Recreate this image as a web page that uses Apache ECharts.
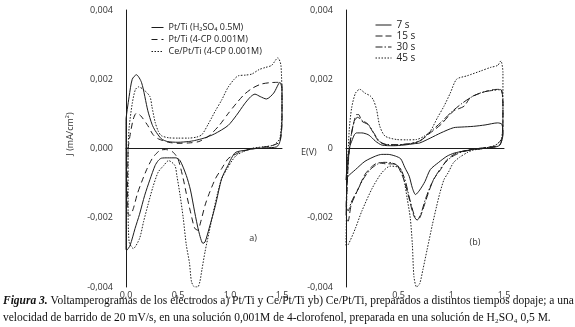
<!DOCTYPE html>
<html><head><meta charset="utf-8">
<script src="https://cdn.jsdelivr.net/npm/echarts@6/dist/echarts.min.js"></script>
<style>html,body{margin:0;padding:0;background:#fff}#c{width:575px;height:327px}</style>
</head><body><div id="c"></div>
<script>
// ---- data (E in V, J in mA/cm2) ----
const xTicksA = ['0,0', '0,5', '1,0', '1,5'];
const xTicksB = ['', '0,5', '1', '1,5'];
const yTicksA = ['-0,004', '-0,002', '0,000', '0,002', '0,004'];
const yTicksB = ['-0,004', '-0,002', '0', '0,002', '0,004'];

const namesA = ['Pt/Ti (H\u2082SO\u2084 0.5M)', 'Pt/Ti (4-CP 0.001M)', 'Ce/Pt/Ti (4-CP 0.001M)'];
const namesB = ['7 s', '15 s', '30 s', '45 s'];

const ptTiH2SO4 = [[0.00,0.00086],[0.03,0.0015],[0.06,0.0020],[0.10,0.00213],[0.15,0.0019],[0.21,0.00109],[0.25,0.0007],[0.28,0.00052],[0.34,0.00028],[0.40,0.0002],[0.5,0.00018],[0.6,0.0002],[0.66,0.00023],[0.75,0.0003],[0.85,0.00042],[0.98,0.00066],[1.06,0.00095],[1.14,0.00129],[1.20,0.0015],[1.24,0.00157],[1.29,0.0015],[1.35,0.00143],[1.42,0.0016],[1.48,0.00191],[1.50,0.0017],[1.50,0.0008],[1.48,0.0002],[1.45,0.00005],[1.35,0.00002],[1.25,0.0],[1.15,-0.00005],[1.05,-0.00012],[0.98,-0.00049],[0.92,-0.00087],[0.86,-0.00164],[0.80,-0.0023],[0.76,-0.0027],[0.74,-0.00274],[0.70,-0.0024],[0.66,-0.00183],[0.62,-0.0012],[0.58,-0.00078],[0.52,-0.00035],[0.48,-0.00027],[0.40,-0.00027],[0.34,-0.00028],[0.31,-0.00035],[0.28,-0.00049],[0.23,-0.0009],[0.18,-0.00135],[0.13,-0.0019],[0.087,-0.00231],[0.04,-0.00279],[0.005,-0.00294],[0.0,-0.0029],[0.0,0.00086]];
const ptTi4CP = [[0.02,0.0],[0.04,0.0004],[0.07,0.00085],[0.10,0.00102],[0.14,0.00095],[0.21,0.00066],[0.26,0.0004],[0.31,0.00028],[0.41,0.00018],[0.5,0.00015],[0.6,0.00016],[0.7,0.0002],[0.80,0.00037],[0.9,0.00068],[0.98,0.001],[1.06,0.0013],[1.14,0.00157],[1.22,0.00175],[1.30,0.00186],[1.38,0.0019],[1.46,0.00191],[1.50,0.00185],[1.50,0.0009],[1.48,0.0002],[1.4,0.00008],[1.3,0.00003],[1.2,-0.00002],[1.1,-0.0001],[1.03,-0.0002],[0.98,-0.0003],[0.92,-0.00058],[0.86,-0.00087],[0.80,-0.0013],[0.76,-0.00164],[0.72,-0.0021],[0.69,-0.00236],[0.66,-0.0023],[0.62,-0.00183],[0.58,-0.0013],[0.55,-0.00087],[0.50,-0.0003],[0.45,-0.0001],[0.38,-0.00003],[0.33,-0.00005],[0.29,-0.00015],[0.25,-0.0003],[0.20,-0.0006],[0.15,-0.00097],[0.11,-0.0013],[0.07,-0.00174],[0.04,-0.00193],[0.02,-0.0019],[0.015,-0.001],[0.02,0.0]];
const cePtTi4CP = [[0.02,0.0],[0.03,0.0006],[0.06,0.0013],[0.09,0.0017],[0.12,0.00178],[0.17,0.0017],[0.23,0.0015],[0.25,0.0012],[0.28,0.00076],[0.31,0.0005],[0.34,0.00037],[0.41,0.00031],[0.5,0.0003],[0.6,0.0003],[0.68,0.00033],[0.73,0.0004],[0.79,0.0007],[0.86,0.00109],[0.92,0.0014],[0.98,0.00176],[1.04,0.002],[1.08,0.0021],[1.15,0.00212],[1.21,0.00215],[1.28,0.00228],[1.34,0.00234],[1.40,0.0024],[1.46,0.00262],[1.49,0.0024],[1.50,0.0012],[1.48,0.0003],[1.42,0.0001],[1.32,0.00005],[1.2,0.0],[1.12,-0.0001],[1.06,-0.0002],[1.02,-0.00035],[0.97,-0.0006],[0.92,-0.00087],[0.88,-0.0013],[0.84,-0.00183],[0.80,-0.0024],[0.76,-0.00298],[0.73,-0.0035],[0.71,-0.00385],[0.69,-0.0040],[0.66,-0.0040],[0.63,-0.00385],[0.61,-0.0033],[0.58,-0.00279],[0.55,-0.002],[0.52,-0.00135],[0.49,-0.0008],[0.47,-0.00049],[0.41,-0.00035],[0.36,-0.0005],[0.31,-0.00068],[0.26,-0.0011],[0.21,-0.00164],[0.17,-0.0021],[0.13,-0.0026],[0.07,-0.00289],[0.03,-0.0027],[0.02,-0.0015],[0.02,0.0]];

const s7 = [[0.0,-0.0009],[0.02,-0.0002],[0.04,0.0001],[0.054,0.00021],[0.08,0.0004],[0.10,0.00045],[0.15,0.00045],[0.21,0.0004],[0.25,0.0003],[0.28,0.00021],[0.34,0.0001],[0.45,0.00008],[0.55,0.0001],[0.65,0.00014],[0.70,0.00016],[0.80,0.0003],[0.90,0.00045],[1.02,0.0006],[1.10,0.00062],[1.21,0.00064],[1.32,0.00068],[1.44,0.00074],[1.48,0.0007],[1.49,0.0004],[1.46,0.0001],[1.40,0.00003],[1.3,0.0],[1.2,-0.00003],[1.11,-0.00008],[1.03,-0.00013],[0.96,-0.00022],[0.88,-0.0004],[0.80,-0.00061],[0.75,-0.00095],[0.70,-0.0012],[0.66,-0.00133],[0.63,-0.00114],[0.60,-0.0008],[0.56,-0.00056],[0.52,-0.0003],[0.47,-0.00022],[0.40,-0.00017],[0.34,-0.00017],[0.28,-0.00022],[0.18,-0.00037],[0.09,-0.00061],[0.02,-0.0008],[0.0,-0.0009]];
const s15 = [[0.0,-0.0019],[0.02,-0.0005],[0.04,0.0002],[0.07,0.00069],[0.10,0.00098],[0.12,0.00098],[0.15,0.00079],[0.21,0.00069],[0.26,0.00045],[0.31,0.00021],[0.37,0.00012],[0.45,0.0001],[0.55,0.00012],[0.65,0.00016],[0.70,0.00021],[0.8,0.00045],[0.9,0.00069],[1.02,0.00108],[1.12,0.00122],[1.18,0.00147],[1.24,0.00156],[1.34,0.00166],[1.40,0.0017],[1.47,0.00171],[1.49,0.0013],[1.49,0.0005],[1.46,0.0001],[1.35,0.00004],[1.25,0.0],[1.15,-0.00005],[1.05,-0.00013],[0.96,-0.00032],[0.90,-0.0006],[0.83,-0.0009],[0.78,-0.0013],[0.74,-0.00167],[0.70,-0.002],[0.67,-0.00205],[0.64,-0.00191],[0.59,-0.00133],[0.56,-0.001],[0.53,-0.00075],[0.47,-0.00045],[0.37,-0.00044],[0.31,-0.00041],[0.25,-0.00051],[0.18,-0.00075],[0.12,-0.00114],[0.05,-0.00162],[0.02,-0.0021],[0.0,-0.0019]];
const s30 = [[0.0,-0.0017],[0.02,-0.0004],[0.05,0.0004],[0.08,0.0008],[0.11,0.0009],[0.15,0.00082],[0.21,0.0007],[0.27,0.00042],[0.32,0.0002],[0.38,0.00012],[0.5,0.00011],[0.6,0.00014],[0.7,0.00022],[0.8,0.00048],[0.9,0.00075],[1.0,0.00105],[1.1,0.0013],[1.2,0.0015],[1.3,0.00163],[1.4,0.00168],[1.47,0.0017],[1.49,0.0012],[1.48,0.0003],[1.4,0.00005],[1.3,0.0],[1.2,-0.00004],[1.1,-0.0001],[1.0,-0.00025],[0.93,-0.00045],[0.86,-0.00075],[0.80,-0.0011],[0.75,-0.0015],[0.71,-0.0019],[0.675,-0.00207],[0.645,-0.0019],[0.60,-0.0014],[0.56,-0.0009],[0.51,-0.00055],[0.44,-0.00042],[0.36,-0.0004],[0.30,-0.00045],[0.24,-0.00058],[0.17,-0.00085],[0.11,-0.0012],[0.05,-0.00155],[0.02,-0.0018],[0.0,-0.0017]];
const s45 = [[0.0,-0.0028],[0.01,-0.001],[0.03,0.0005],[0.054,0.00118],[0.09,0.0016],[0.13,0.00171],[0.18,0.0016],[0.23,0.00152],[0.26,0.0014],[0.29,0.00113],[0.32,0.00065],[0.37,0.00036],[0.48,0.00026],[0.58,0.00025],[0.67,0.00026],[0.74,0.00035],[0.80,0.0005],[0.87,0.0009],[0.93,0.00122],[0.99,0.0016],[1.05,0.002],[1.15,0.0021],[1.28,0.00224],[1.37,0.00234],[1.44,0.0024],[1.47,0.00253],[1.49,0.0022],[1.49,0.0012],[1.48,0.0003],[1.42,0.0001],[1.3,0.0],[1.2,-0.00005],[1.15,-0.00012],[1.08,-0.00025],[1.02,-0.00041],[0.97,-0.0007],[0.93,-0.0009],[0.89,-0.0013],[0.86,-0.00167],[0.82,-0.0022],[0.77,-0.00292],[0.73,-0.0035],[0.70,-0.0039],[0.67,-0.004],[0.645,-0.0037],[0.63,-0.00278],[0.61,-0.002],[0.58,-0.00143],[0.55,-0.0009],[0.51,-0.00056],[0.42,-0.00051],[0.34,-0.0007],[0.25,-0.00114],[0.15,-0.00181],[0.09,-0.0023],[0.02,-0.00278],[0.0,-0.0028]];

// ---- chart ----
const INK = '#1c1c1c';
const FONT = 'Open Sans, Liberation Sans, sans-serif';
function xAx(gi, labels) {
  return { type: 'value', gridIndex: gi, min: 0, max: 1.5, interval: 0.5,
    axisLine: { show: true, onZero: true, lineStyle: { color: INK, width: 1 } },
    axisTick: { show: false }, splitLine: { show: false },
    axisLabel: { margin: 4, fontSize: 9, color: '#333', fontFamily: FONT,
      formatter: (v, i) => labels[i] } };
}
function yAx(gi, labels) {
  return { type: 'value', gridIndex: gi, min: -0.004, max: 0.004, interval: 0.002,
    axisLine: { show: true, onZero: false, lineStyle: { color: INK, width: 1 } },
    axisTick: { show: false }, splitLine: { show: false },
    axisLabel: { margin: 13, fontSize: 9, color: '#333', fontFamily: FONT,
      formatter: (v, i) => labels[i] } };
}
function ser(name, data, idx, type) {
  return { name, type: 'line', data, xAxisIndex: idx, yAxisIndex: idx,
    showSymbol: false, symbol: 'none', smooth: 0.25, clip: true,
    lineStyle: { color: INK, width: 1, type }, itemStyle: { color: INK } };
}
const legendCommon = { orient: 'vertical', itemWidth: 15, itemHeight: 8,
  itemStyle: { opacity: 0, borderWidth: 0 },
  lineStyle: { width: 1, inactiveWidth: 1 } };
const chart = echarts.init(document.getElementById('c'), null, { renderer: 'canvas' });
chart.setOption({
  animation: false,
  backgroundColor: '#fff',
  grid: [
    { left: 126, top: 10, width: 156, height: 277 },
    { left: 346, top: 10, width: 158, height: 277 }
  ],
  xAxis: [xAx(0, xTicksA), xAx(1, xTicksB)],
  yAxis: [yAx(0, yTicksA), yAx(1, yTicksB)],
  legend: [
    Object.assign({}, legendCommon, { data: namesA, left: 146, top: 18, itemGap: 3, itemWidth: 12,
      textStyle: { fontSize: 9, color: '#222', fontFamily: FONT } }),
    Object.assign({}, legendCommon, { data: namesB, left: 370, top: 15, itemGap: 1, itemWidth: 16,
      textStyle: { fontSize: 10, color: '#222', fontFamily: FONT } })
  ],
  series: [
    ser(namesA[0], ptTiH2SO4, 0, 'solid'),
    ser(namesA[1], ptTi4CP, 0, [6, 4]),
    ser(namesA[2], cePtTi4CP, 0, [1.5, 1.5]),
    ser(namesB[0], s7, 1, 'solid'),
    ser(namesB[1], s15, 1, [7, 3]),
    ser(namesB[2], s30, 1, [7, 2, 1.5, 2]),
    ser(namesB[3], s45, 1, [1.5, 1.5])
  ],
  graphic: [
    { type: 'text', x: 70, y: 134, rotation: Math.PI / 2,
      style: { text: 'J (mA/cm\u00b2)', fontSize: 9, fill: '#333', fontFamily: FONT, align: 'center', verticalAlign: 'middle' } },
    { type: 'text', x: 301, y: 152,
      style: { text: 'E(V)', fontSize: 9, fill: '#333', fontFamily: FONT, align: 'left', verticalAlign: 'middle' } },
    { type: 'text', x: 253, y: 238,
      style: { text: 'a)', fontSize: 9, fill: '#333', fontFamily: FONT, align: 'center', verticalAlign: 'middle' } },
    { type: 'text', x: 475, y: 242,
      style: { text: '(b)', fontSize: 9, fill: '#333', fontFamily: FONT, align: 'center', verticalAlign: 'middle' } },
    { type: 'text', x: 3, y: 301,
      style: { text: '{b|Figura 3.} Voltamperogramas de los electrodos a) Pt/Ti y Ce/Pt/Ti yb) Ce/Pt/Ti, preparados a distintos tiempos dopaje; a una',
        fontSize: 11.5, fill: '#111', fontFamily: 'Liberation Serif, serif', verticalAlign: 'middle',
        rich: { b: { fontWeight: 'bold', fontStyle: 'italic', fontSize: 11.5, fontFamily: 'Liberation Serif, serif', fill: '#111' } } } },
    { type: 'text', x: 3, y: 318,
      style: { text: 'velocidad de barrido de 20 mV/s, en una soluci\u00f3n 0,001M de 4-clorofenol, preparada en una soluci\u00f3n de H\u2082SO\u2084 0,5 M.',
        fontSize: 11.5, fill: '#111', fontFamily: 'Liberation Serif, serif', verticalAlign: 'middle' } }
  ]
});
</script></body></html>
